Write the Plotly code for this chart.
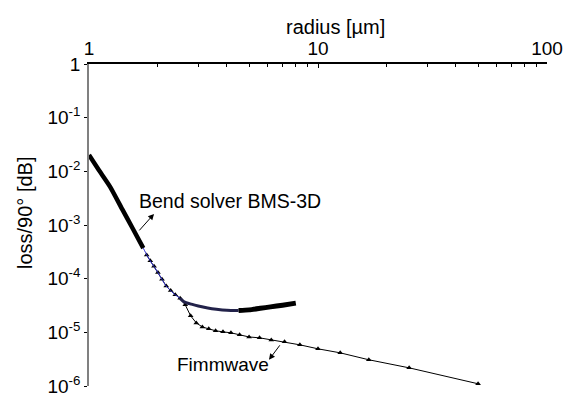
import plotly.graph_objects as go

# ---- data ----
bms_radius = [1.0, 1.1, 1.235, 1.4, 1.55, 1.726, 1.79, 1.85, 1.92, 2.0, 2.08, 2.17,
              2.27, 2.38, 2.5, 2.6, 2.8, 3.0, 3.3, 3.6, 4.0, 4.5, 5.0, 5.6, 6.2, 7.0, 8.0]
bms_loss = [2.02e-2, 1.08e-2, 5.2e-3, 1.93e-3, 8.7e-4, 3.7e-4, 2.75e-4, 2.15e-4, 1.7e-4,
            1.3e-4, 9.8e-5, 7.3e-5, 6.0e-5, 5.0e-5, 4.3e-5, 3.7e-5, 3.35e-5, 3.1e-5,
            2.85e-5, 2.7e-5, 2.58e-5, 2.55e-5, 2.62e-5, 2.8e-5, 2.98e-5, 3.2e-5, 3.5e-5]

fimm_radius = [1.786, 1.852, 1.923, 2.0, 2.083, 2.174, 2.273, 2.381, 2.5, 2.632, 2.778,
               2.941, 3.125, 3.333, 3.571, 3.846, 4.167, 4.545, 5.0, 5.556, 6.25, 7.143,
               8.333, 10.0, 12.5, 16.67, 25.0, 50.0]
fimm_loss = [2.75e-4, 2.15e-4, 1.7e-4, 1.3e-4, 9.8e-5, 7.3e-5, 6.0e-5, 5.0e-5, 4.3e-5,
             3.25e-5, 2.03e-5, 1.5e-5, 1.26e-5, 1.16e-5, 1.07e-5, 1.02e-5, 9.8e-6, 9.0e-6,
             8.2e-6, 7.9e-6, 7.2e-6, 6.65e-6, 5.85e-6, 4.93e-6, 4.15e-6, 3.08e-6, 2.18e-6,
             1.1e-6]

y_tickvals = [1e-6, 1e-5, 1e-4, 1e-3, 1e-2, 1e-1, 1]
y_ticktext = ["10<sup>-6</sup>", "10<sup>-5</sup>", "10<sup>-4</sup>", "10<sup>-3</sup>",
              "10<sup>-2</sup>", "10<sup>-1</sup>", "1"]
x_tickvals = [1, 10, 100]
x_ticktext = ["1", "10", "100"]
x_minor = [2, 3, 4, 5, 6, 7, 8, 9, 20, 30, 40, 50, 60, 70, 80, 90]

FONT = "Liberation Sans, Arial, sans-serif"


def seg(lo, hi):
    xs, ys = [], []
    for r, v in zip(bms_radius, bms_loss):
        if lo <= r <= hi:
            xs.append(r)
            ys.append(v)
    return xs, ys


fig = go.Figure()

# Fimmwave
fig.add_trace(go.Scatter(
    x=fimm_radius, y=fimm_loss, mode="lines+markers",
    line=dict(color="black", width=1),
    marker=dict(symbol="triangle-up", size=5, color="black"),
    showlegend=False))

# Bend solver BMS-3D segments
segments = [
    ((1.0, 1.726), dict(color="black", width=4.5)),
    ((1.726, 2.6), dict(color="#2a2ad0", width=1)),
    ((2.5, 4.5), dict(color="#22224a", width=3)),
    ((4.5, 8.0), dict(color="black", width=5)),
]
for (lo, hi), ln in segments:
    xs, ys = seg(lo, hi)
    fig.add_trace(go.Scatter(x=xs, y=ys, mode="lines",
                             line=dict(shape="spline", smoothing=0.6, **ln),
                             showlegend=False))

fig.update_layout(
    width=565, height=391,
    margin=dict(l=81, r=26, t=56, b=13, autoexpand=False),
    paper_bgcolor="white", plot_bgcolor="white",
    font=dict(family=FONT, size=19, color="black"),
    xaxis=dict(
        type="log", range=[0, 2], side="top",
        tickmode="array", tickvals=x_tickvals, ticktext=x_ticktext,
        ticks="inside", ticklen=4, tickwidth=1, tickcolor="black",
        minor=dict(tickmode="array", tickvals=x_minor, ticks="inside", ticklen=3,
                   tickwidth=1, tickcolor="black", showgrid=False),
        showline=True, linecolor="black", linewidth=1.5,
        showgrid=False, zeroline=False,
        tickfont=dict(size=19),
    ),
    yaxis=dict(
        type="log", range=[-6, 0],
        tickmode="array", tickvals=y_tickvals, ticktext=y_ticktext,
        ticks="outside", ticklen=3, tickwidth=1, tickcolor="black",
        showline=True, linecolor="#808080", linewidth=1.7,
        showgrid=False, zeroline=False,
        tickfont=dict(size=19),
    ),
    annotations=[
        dict(text="radius [µm]", xref="paper", yref="paper", x=(335 - 89) / 458,
             y=1 + (64 - 27) / 322,
             showarrow=False, font=dict(size=20), xanchor="center", yanchor="middle"),
        dict(text="loss/90° [dB]", xref="paper", yref="paper", x=(25 - 89) / 458,
             y=1 - (213 - 64) / 322,
             showarrow=False, font=dict(size=20), textangle=-90,
             xanchor="center", yanchor="middle"),
        dict(text="Bend solver BMS-3D", xref="x", yref="y", x=0.616, y=-2.551,
             showarrow=False, font=dict(size=19.5), xanchor="center", yanchor="middle"),
        dict(text="Fimmwave", xref="x", yref="y", x=0.585, y=-5.605,
             showarrow=False, font=dict(size=19), xanchor="center", yanchor="middle"),
        dict(text="", xref="x", yref="y", x=0.284, y=-2.793,
             axref="x", ayref="y", ax=0.214, ay=-3.128,
             showarrow=True, arrowhead=2, arrowsize=1.2, arrowwidth=1, arrowcolor="black",
             standoff=0, startstandoff=0),
        dict(text="", xref="x", yref="y", x=0.786, y=-5.512,
             axref="x", ayref="y", ax=0.838, ay=-5.214,
             showarrow=True, arrowhead=2, arrowsize=1.2, arrowwidth=1, arrowcolor="black",
             standoff=0, startstandoff=0),
    ],
)

fig.write_html("out.html")
